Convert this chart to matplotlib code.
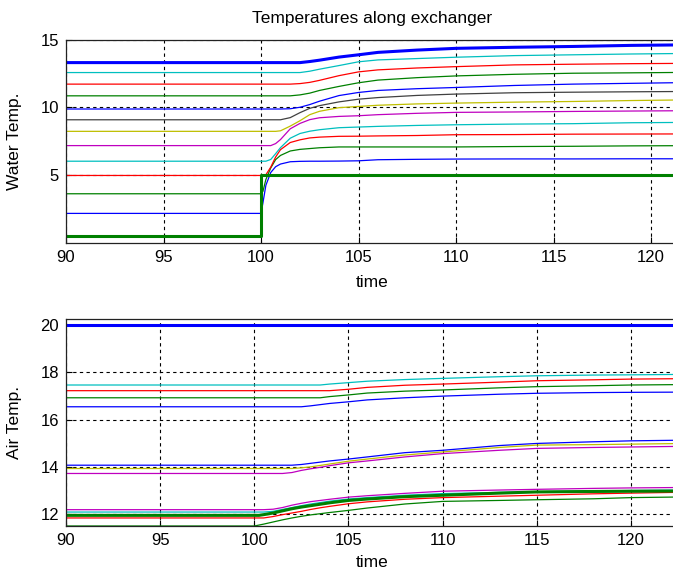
import matplotlib.pyplot as plt

plt.rcParams['font.family'] = ['Liberation Sans', 'DejaVu Sans']

# Colores clasicos de Matlab (b, g, r, c, m, y, k)
B = (0, 0, 1)
G = (0, 0.5, 0)
R = (1, 0, 0)
C = (0, 0.75, 0.75)
M = (0.75, 0, 0.75)
Y = (0.75, 0.75, 0)
K = (0.25, 0.25, 0.25)

# --- Temperatura del agua ---
t_water = [90, 100, 100.1, 100.25, 100.5, 100.75, 101, 101.5, 102, 102.5, 103, 104, 105, 106, 108, 110, 113, 116, 119, 122.5]
t_water_in = [90, 100, 100, 122.5]
w_in = [0.43, 0.43, 5.0, 5.0]
w_b1 = [2.11, 2.11, 2.9, 4.2, 5.15, 5.58, 5.78, 5.95, 5.98, 5.99, 5.99, 6.0, 6.02, 6.1, 6.13, 6.15, 6.16, 6.16, 6.17, 6.17]
w_g1 = [3.57, 3.57, 3.75, 4.63, 5.49, 6.11, 6.42, 6.75, 6.87, 6.93, 6.99, 7.05, 7.05, 7.05, 7.05, 7.05, 7.08, 7.1, 7.13, 7.15]
w_r1 = [4.93, 4.93, 4.93, 4.98, 5.55, 6.3, 6.85, 7.38, 7.58, 7.72, 7.78, 7.84, 7.85, 7.87, 7.9, 7.96, 7.97, 8.0, 8.01, 8.02]
w_c1 = [5.99, 5.99, 5.99, 5.99, 6.12, 6.55, 7.0, 7.7, 8.05, 8.22, 8.33, 8.48, 8.53, 8.58, 8.65, 8.7, 8.75, 8.78, 8.85, 8.88]
w_m1 = [7.15, 7.15, 7.15, 7.15, 7.15, 7.3, 7.6, 8.4, 8.8, 9.08, 9.22, 9.32, 9.37, 9.45, 9.55, 9.62, 9.65, 9.69, 9.72, 9.75]
w_y1 = [8.21, 8.21, 8.21, 8.21, 8.21, 8.21, 8.25, 8.6, 9.0, 9.45, 9.7, 9.97, 10.06, 10.15, 10.25, 10.31, 10.38, 10.43, 10.5, 10.56]
w_k1 = [9.07, 9.07, 9.07, 9.07, 9.07, 9.07, 9.07, 9.23, 9.6, 9.92, 10.12, 10.4, 10.6, 10.72, 10.88, 10.98, 11.08, 11.12, 11.15, 11.18]
w_b2 = [9.87, 9.87, 9.87, 9.87, 9.87, 9.87, 9.87, 9.89, 10.0, 10.2, 10.45, 10.87, 11.1, 11.25, 11.38, 11.47, 11.62, 11.72, 11.78, 11.85]
w_g2 = [10.85, 10.85, 10.85, 10.85, 10.85, 10.85, 10.85, 10.85, 10.92, 11.05, 11.25, 11.55, 11.82, 12.02, 12.2, 12.33, 12.45, 12.53, 12.56, 12.6]
w_r2 = [11.72, 11.72, 11.72, 11.72, 11.72, 11.72, 11.72, 11.72, 11.76, 11.85, 12.0, 12.35, 12.63, 12.78, 12.92, 13.02, 13.15, 13.2, 13.24, 13.27]
w_c2 = [12.58, 12.58, 12.58, 12.58, 12.58, 12.58, 12.58, 12.58, 12.58, 12.68, 12.83, 13.1, 13.38, 13.52, 13.62, 13.72, 13.84, 13.9, 13.96, 14.01]
w_out = [13.32, 13.32, 13.32, 13.32, 13.32, 13.32, 13.32, 13.32, 13.32, 13.4, 13.5, 13.73, 13.9, 14.08, 14.25, 14.38, 14.46, 14.52, 14.6, 14.65]

# --- Temperatura del aire ---
t_air = [90, 100, 100.25, 100.5, 101, 101.5, 102, 102.5, 103, 103.5, 104, 105, 106, 108, 110, 113, 115, 118, 120, 123]
t_air_in = [90, 123]
a_in = [20.0, 20.0]
a_c3 = [17.46, 17.46, 17.46, 17.46, 17.46, 17.46, 17.46, 17.46, 17.46, 17.46, 17.5, 17.56, 17.62, 17.69, 17.74, 17.81, 17.85, 17.88, 17.89, 17.91]
a_r3 = [17.22, 17.22, 17.22, 17.22, 17.22, 17.22, 17.22, 17.22, 17.22, 17.22, 17.22, 17.28, 17.36, 17.45, 17.5, 17.58, 17.64, 17.68, 17.71, 17.73]
a_g3 = [16.92, 16.92, 16.92, 16.92, 16.92, 16.92, 16.92, 16.92, 16.92, 16.92, 16.97, 17.04, 17.12, 17.2, 17.25, 17.34, 17.39, 17.43, 17.46, 17.48]
a_b3 = [16.54, 16.54, 16.54, 16.54, 16.54, 16.54, 16.54, 16.54, 16.58, 16.63, 16.68, 16.75, 16.83, 16.92, 16.99, 17.07, 17.11, 17.14, 17.15, 17.16]
a_b2 = [14.07, 14.07, 14.07, 14.07, 14.07, 14.07, 14.07, 14.1, 14.15, 14.2, 14.25, 14.33, 14.42, 14.6, 14.7, 14.9, 14.99, 15.06, 15.1, 15.13]
a_y2 = [13.93, 13.93, 13.93, 13.93, 13.93, 13.93, 13.93, 13.96, 14.0, 14.06, 14.12, 14.24, 14.33, 14.5, 14.63, 14.82, 14.92, 14.94, 14.96, 14.99]
a_m2 = [13.72, 13.72, 13.72, 13.72, 13.72, 13.72, 13.76, 13.85, 13.92, 13.98, 14.05, 14.17, 14.25, 14.42, 14.56, 14.7, 14.78, 14.82, 14.84, 14.87]
a_m1 = [12.19, 12.19, 12.19, 12.19, 12.21, 12.28, 12.38, 12.46, 12.53, 12.58, 12.63, 12.72, 12.78, 12.88, 12.97, 13.02, 13.05, 13.09, 13.11, 13.13]
a_c1 = [12.09, 12.09, 12.09, 12.09, 12.12, 12.2, 12.28, 12.36, 12.43, 12.49, 12.55, 12.64, 12.7, 12.8, 12.87, 12.92, 12.95, 12.98, 13.0, 13.02]
a_r1 = [11.84, 11.84, 11.84, 11.84, 11.9, 11.98, 12.05, 12.12, 12.2, 12.27, 12.33, 12.44, 12.52, 12.63, 12.7, 12.76, 12.8, 12.86, 12.89, 12.93]
a_g1 = [11.5, 11.5, 11.54, 11.58, 11.67, 11.76, 11.84, 11.91, 11.97, 12.02, 12.07, 12.16, 12.26, 12.43, 12.54, 12.58, 12.61, 12.65, 12.7, 12.73]
a_out = [11.95, 11.95, 11.95, 11.98, 12.05, 12.14, 12.23, 12.3, 12.36, 12.42, 12.48, 12.58, 12.64, 12.74, 12.8, 12.89, 12.94, 12.96, 12.97, 12.98]

water_lines = [(w_b1, B), (w_g1, G), (w_r1, R), (w_c1, C), (w_m1, M), (w_y1, Y),
               (w_k1, K), (w_b2, B), (w_g2, G), (w_r2, R), (w_c2, C)]
air_lines = [(a_c3, C), (a_r3, R), (a_g3, G), (a_b3, B), (a_b2, B), (a_y2, Y),
             (a_m2, M), (a_m1, M), (a_c1, C), (a_r1, R), (a_g1, G)]

xticks = [90, 95, 100, 105, 110, 115, 120]

fig = plt.figure(figsize=(6.73, 5.73), dpi=100)
ax1 = fig.add_axes([66 / 673, 1 - 243 / 573, 607 / 673, 203 / 573])
ax2 = fig.add_axes([66 / 673, 1 - 526 / 573, 607 / 673, 207 / 573])

# Grafico superior: agua
for vals, col in water_lines:
    ax1.plot(t_water, vals, color=col, lw=0.9)
ax1.plot(t_water, w_out, color=B, lw=2.2)
ax1.plot(t_water_in, w_in, color=G, lw=2.2)
ax1.set_xlim(90, 90 + 607 / 19.5)
ax1.set_ylim(-0.09, 15)
ax1.set_yticks([5, 10, 15])
ax1.set_title('Temperatures along exchanger', fontsize=12.5, x=0.505, pad=12)
ax1.set_ylabel('Water Temp.', fontsize=12.5)
ax1.set_xlabel('time', fontsize=12.5)
ax1.xaxis.set_label_coords(0.505, -0.16)

# Grafico inferior: aire
for vals, col in air_lines:
    ax2.plot(t_air, vals, color=col, lw=0.9)
ax2.plot(t_air, a_out, color=G, lw=2.2)
ax2.plot(t_air_in, a_in, color=B, lw=2.2)
ax2.set_xlim(90, 90 + 607 / 18.83)
ax2.set_ylim(11.5, 20.25)
ax2.set_yticks([12, 14, 16, 18, 20])
ax2.set_ylabel('Air Temp.', fontsize=12.5)
ax2.set_xlabel('time', fontsize=12.5)
ax2.xaxis.set_label_coords(0.505, -0.142)

for ax in (ax1, ax2):
    ax.set_xticks(xticks)
    ax.yaxis.set_label_coords(-0.0725, 0.5)
    ax.grid(True, color='black', linestyle=(0, (3, 3)), lw=0.8)
    ax.tick_params(direction='in', length=4, labelsize=12, pad=5)
    ax.spines['right'].set_visible(False)
    for s in ('left', 'top', 'bottom'):
        ax.spines[s].set_color('#222222')
        ax.spines[s].set_linewidth(0.9)

fig.savefig('out.png', dpi=100)
